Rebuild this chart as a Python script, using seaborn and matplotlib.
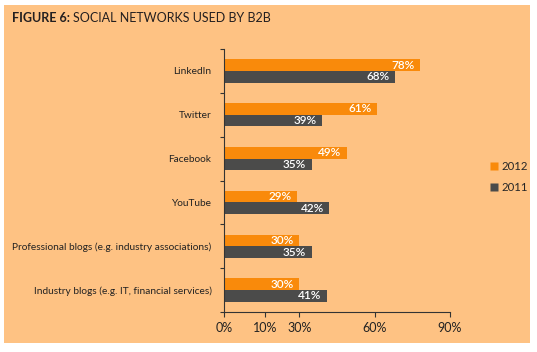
import numpy as np
import pandas as pd
import seaborn as sns
import matplotlib.pyplot as plt
from matplotlib.patches import Rectangle
from matplotlib.lines import Line2D

# Data
networks = ["LinkedIn", "Twitter", "Facebook", "YouTube",
            "Professional blogs (e.g. industry associations)",
            "Industry blogs (e.g. IT, financial services)"]
share_2012 = [78, 61, 49, 29, 30, 30]
share_2011 = [68, 39, 35, 42, 35, 41]
years = ["2012", "2011"]

# axis ticks as printed on the chart (the "10%" tick sits off-scale in the original)
tick_pos = [0, 16.5, 30, 60, 90]
tick_labels = ["0%", "10%", "30%", "60%", "90%"]

df = pd.DataFrame({
    "network": networks * 2,
    "share": share_2012 + share_2011,
    "year": [years[0]] * len(networks) + [years[1]] * len(networks),
})

bg = "#FEC283"
orange = "#F98A0B"
dark = "#4B4B4A"

sns.set_style("white")
plt.rcParams["font.family"] = ["Lato", "DejaVu Sans"]

W, H = 537, 352
fig = plt.figure(figsize=(W / 100, H / 100), dpi=100)
fig.patch.set_facecolor("white")
fig.patches.append(Rectangle((4 / W, 1 - 343 / H), 526 / W, 338 / H,
                             transform=fig.transFigure, facecolor=bg,
                             edgecolor="none", zorder=-10))

ax = fig.add_axes([224 / W, 1 - 312 / H, 226 / W, 263 / H])
ax.set_facecolor("none")

sns.barplot(data=df, x="share", y="network", hue="year", hue_order=years,
            palette=[orange, dark], orient="h", width=0.53, saturation=1,
            dodge=True, ax=ax, legend=False, linewidth=0, edgecolor="none")

for cont, vals in zip(ax.containers, [share_2012, share_2011]):
    for bar, v in zip(cont, vals):
        ax.annotate(f"{v}%", (bar.get_width(), bar.get_y() + bar.get_height() / 2),
                    xytext=(-4, 0), textcoords="offset points", ha="right",
                    va="center", color="white", fontsize=8.5, fontweight="semibold")

ax.set_xlim(0, 90)
ax.set_ylim(5.5, -0.5)
ax.set_xticks(tick_pos)
ax.set_xticklabels(tick_labels, fontsize=9, color="#222222")
ax.set_yticks(range(len(networks)))
ax.set_yticklabels(networks, fontsize=7.3, color="#222222")
ax.set_yticks(np.arange(-0.5, len(networks), 1), minor=True)
ax.tick_params(axis="y", which="major", length=0, pad=9)
ax.tick_params(axis="y", which="minor", length=3, width=0.8, color="#333333", left=True)
ax.tick_params(axis="x", length=3.5, width=0.8, color="#333333", bottom=True, pad=4)
ax.set_xlabel("")
ax.set_ylabel("")
sns.despine(ax=ax)
for s in ["left", "bottom"]:
    ax.spines[s].set_color("#333333")
    ax.spines[s].set_linewidth(0.8)

t1 = fig.text(12 / W, 1 - 18 / H, "FIGURE 6:", fontsize=9, fontweight="bold",
              color="#231F20", va="center", ha="left")
ax.annotate("SOCIAL NETWORKS USED BY B2B", xy=(1, 0.5), xycoords=t1,
            xytext=(2.5, 0), textcoords="offset points", fontsize=9,
            color="#231F20", va="center", ha="left", annotation_clip=False)

handles = [Line2D([], [], marker="s", linestyle="none", markersize=5.5,
                  markerfacecolor=c, markeredgecolor="none") for c in [orange, dark]]
fig.legend(handles, years, loc="center left", bbox_to_anchor=(478 / W, 1 - 177 / H),
           frameon=False, fontsize=8.2, handletextpad=0.2, labelspacing=0.9,
           handlelength=1.0)

fig.savefig("out.png", dpi=100, facecolor="white")
